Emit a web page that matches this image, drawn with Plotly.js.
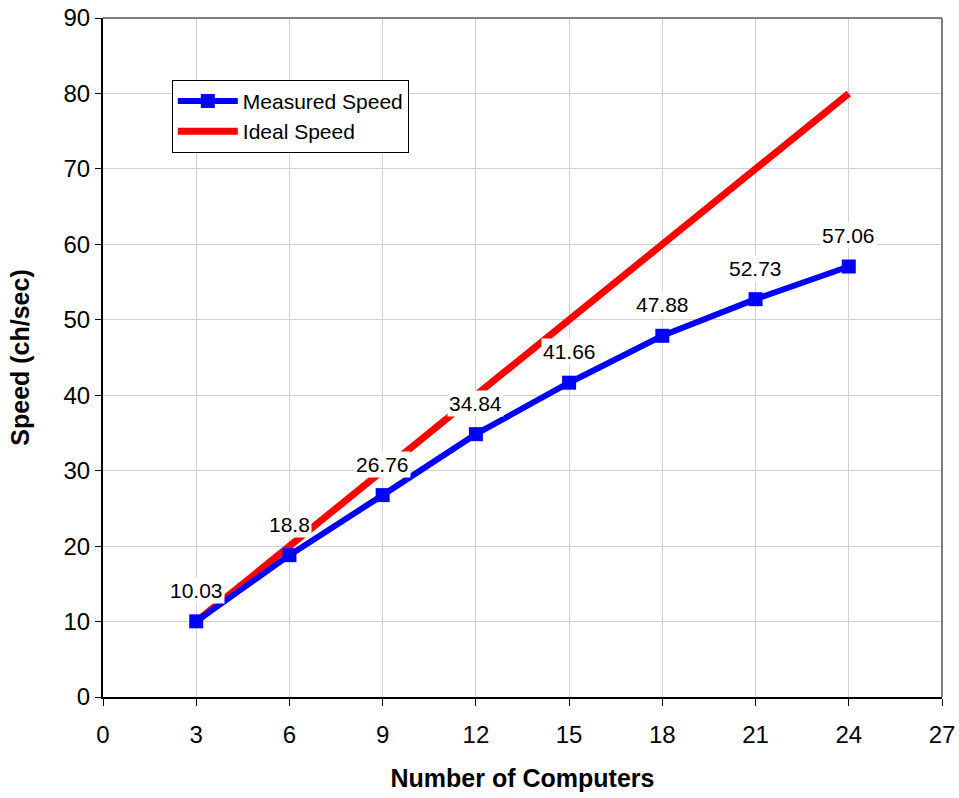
<!DOCTYPE html>
<html>
<head>
<meta charset="utf-8">
<script src="https://cdn.plot.ly/plotly-3.0.1.min.js"></script>
<style>html,body{margin:0;padding:0;background:#fff;}#chart{width:959px;height:798px;}</style>
</head>
<body>
<div id="chart"></div>
<script>
const computers = [3, 6, 9, 12, 15, 18, 21, 24];
const measuredSpeed = [10.03, 18.8, 26.76, 34.84, 41.66, 47.88, 52.73, 57.06];
const idealSpeed = [10, 20, 30, 40, 50, 60, 70, 80];
const measuredLabels = ["10.03", "18.8", "26.76", "34.84", "41.66", "47.88", "52.73", "57.06"];
const xTicks = [0, 3, 6, 9, 12, 15, 18, 21, 24, 27];

const font = "Liberation Sans, Arial, sans-serif";

const traces = [
  {
    x: computers, y: idealSpeed, name: "Ideal Speed", type: "scatter", mode: "lines",
    line: {color: "#ff0000", width: 7}, legendrank: 2
  },
  {
    x: computers, y: measuredSpeed, name: "Measured Speed", type: "scatter", mode: "lines+markers",
    line: {color: "#0000ff", width: 6}, marker: {symbol: "square", size: 14, color: "#0000ff"},
    legendrank: 1
  }
];

const annotations = computers.map((c, i) => ({
  x: c, y: measuredSpeed[i], xref: "x", yref: "y", text: measuredLabels[i],
  showarrow: false, yshift: 31, bgcolor: "#ffffff", borderpad: 1,
  font: {family: font, size: 21, color: "#000"}
}));

const layout = {
  width: 959, height: 798,
  margin: {l: 103, r: 17, t: 18, b: 101},
  paper_bgcolor: "#fff", plot_bgcolor: "#fff",
  showlegend: true,
  legend: {
    x: 0.082, y: 0.909, xanchor: "left", yanchor: "top",
    bgcolor: "#fff", bordercolor: "#000", borderwidth: 1,
    font: {family: font, size: 21, color: "#000"},
    tracegroupgap: 0, itemwidth: 60
  },
  xaxis: {
    range: [0, 27], tickvals: xTicks, ticktext: xTicks.map(String),
    showgrid: true, gridcolor: "#d0d0d0", gridwidth: 1,
    showline: true, linecolor: "#000", linewidth: 2, mirror: false,
    ticks: "outside", ticklen: 7, tickcolor: "#000", tickwidth: 1,
    ticklabelstandoff: 8,
    zeroline: false,
    tickfont: {family: font, size: 24, color: "#000"},
    title: {text: "Number of Computers", font: {family: font, size: 25, color: "#000", weight: "bold"}, standoff: 23}
  },
  yaxis: {
    range: [0, 90], dtick: 10,
    showgrid: true, gridcolor: "#d0d0d0", gridwidth: 1,
    showline: true, linecolor: "#000", linewidth: 2,
    ticks: "outside", ticklen: 6, tickcolor: "#000", tickwidth: 1,
    zeroline: false,
    tickfont: {family: font, size: 24, color: "#000"},
    title: {text: "Speed (ch/sec)", font: {family: font, size: 25, color: "#000", weight: "bold"}, standoff: 27}
  },
  shapes: [
    {type: "line", xref: "paper", yref: "paper", x0: 0, x1: 1, y0: 1, y1: 1, line: {color: "#808080", width: 2}},
    {type: "line", xref: "paper", yref: "paper", x0: 1, x1: 1, y0: 0, y1: 1, line: {color: "#808080", width: 2}}
  ],
  annotations: annotations
};

Plotly.newPlot("chart", traces, layout, {displayModeBar: false, staticPlot: true});
</script>
</body>
</html>
